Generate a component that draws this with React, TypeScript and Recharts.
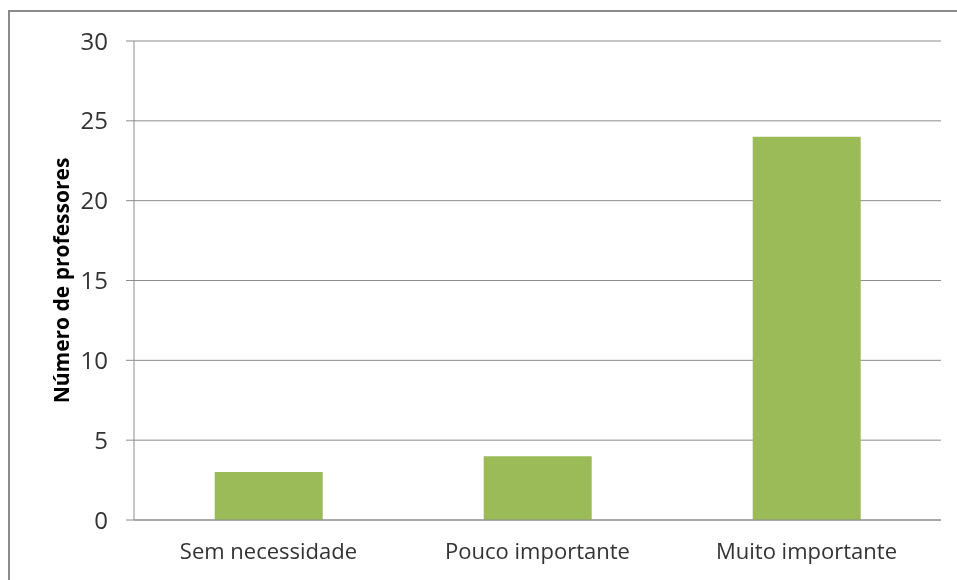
import React from "react";
import { BarChart, Bar, XAxis, YAxis, CartesianGrid } from "recharts";

const categories = ["Sem necessidade", "Pouco importante", "Muito importante"];
const professores = [3, 4, 24];
const yTicks = [0, 5, 10, 15, 20, 25, 30];

const data = categories.map((c, i) => ({ categoria: c, valor: professores[i] }));

const FONT = "'Open Sans', 'Noto Sans', sans-serif";

export default function App() {
  return (
    <div style={{ position: "relative", width: 941, height: 564, background: "#fff" }}>
      <div
        style={{
          position: "fixed",
          left: 8,
          top: 10,
          width: 1200,
          height: 1200,
          border: "2px solid #8a8a8a",
          boxSizing: "border-box",
          pointerEvents: "none",
        }}
      />
      <div style={{ position: "absolute", left: 0, top: 0 }}>
        <BarChart
          width={941}
          height={564}
          data={data}
          margin={{ top: 33, right: 8, bottom: 0, left: 0 }}
          barCategoryGap="30%"
        >
          <CartesianGrid vertical={false} stroke="#8c8c8c" strokeWidth={1} />
          <XAxis
            dataKey="categoria"
            height={52}
            tickLine={false}
            tickSize={0}
            tickMargin={23}
            axisLine={{ stroke: "#8c8c8c" }}
            tick={{ fill: "#333", fontSize: 22, fontFamily: FONT }}
            interval={0}
          />
          <YAxis
            width={126}
            domain={[0, 30]}
            ticks={yTicks}
            tickSize={8}
            tickMargin={18}
            axisLine={{ stroke: "#8c8c8c" }}
            tickLine={{ stroke: "#8c8c8c" }}
            tick={{ fill: "#333", fontSize: 24, fontFamily: FONT }}
            label={{
              value: "Número de professores",
              angle: -90,
              position: "insideLeft",
              offset: 0,
              dx: 54,
              style: { textAnchor: "middle", fontWeight: "bold", fontSize: 21, fontFamily: FONT, fill: "#000" },
            }}
          />
          <Bar dataKey="valor" fill="#9bbb59" isAnimationActive={false} />
        </BarChart>
      </div>
    </div>
  );
}
